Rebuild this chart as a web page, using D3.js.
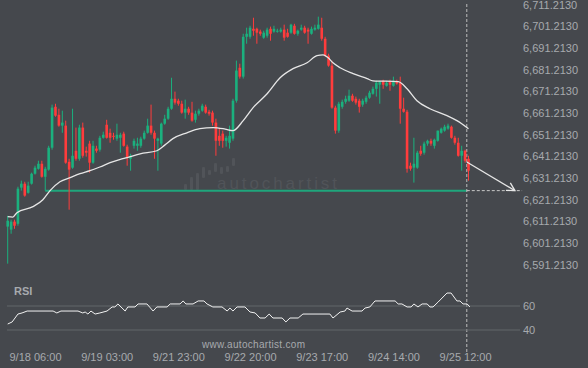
<!DOCTYPE html>
<html><head><meta charset="utf-8">
<script src="https://cdn.jsdelivr.net/npm/d3@7"></script>
<style>html,body{margin:0;padding:0;background:#45484d;}svg{display:block;}</style>
</head><body>
<script>
// ---- data ----
const openP = [6608.8,6607.4,6611.1,6610.1,6626.8,6628.6,6624.4,6628.6,6633.2,6635.5,6637.8,6631.8,6635.1,6645.2,6664.1,6660.4,6655.4,6655.4,6638.7,6636.0,6643.8,6640.1,6654.5,6643.8,6647.1,6638.3,6644.8,6644.3,6649.8,6655.8,6652.1,6650.7,6649.4,6649.8,6651.7,6645.7,6640.1,6646.1,6646.1,6646.1,6649.4,6652.1,6655.4,6652.1,6648.4,6647.1,6656.3,6658.6,6663.2,6667.8,6666.9,6665.5,6661.4,6663.2,6661.4,6658.1,6660.9,6662.3,6664.1,6661.8,6661.4,6656.8,6650.7,6651.7,6648.4,6647.5,6649.4,6666.9,6682.1,6678.0,6696.4,6696.4,6700.1,6700.1,6698.8,6696.0,6696.9,6700.1,6698.8,6698.8,6698.8,6699.7,6698.3,6698.3,6701.5,6697.8,6699.7,6700.6,6699.7,6697.8,6699.7,6700.1,6700.6,6695.5,6687.7,6683.1,6663.7,6653.1,6664.1,6666.4,6666.9,6669.2,6667.8,6666.9,6665.1,6666.4,6668.3,6670.1,6672.4,6674.3,6676.1,6673.8,6675.7,6673.8,6675.7,6675.2,6663.2,6661.8,6636.9,6636.0,6636.0,6643.8,6642.9,6647.1,6648.4,6646.1,6648.4,6652.1,6653.1,6654.0,6654.9,6649.8,6647.5,6641.5,6643.8,6640.1];
const closeP = [6611.5,6611.1,6609.2,6626.3,6628.6,6623.1,6627.7,6633.2,6636.0,6637.8,6631.8,6635.5,6645.2,6663.7,6660.0,6655.4,6656.8,6638.3,6635.1,6641.5,6640.1,6654.5,6641.5,6642.9,6638.3,6646.1,6643.8,6649.8,6651.2,6649.8,6649.8,6650.3,6651.2,6651.2,6646.1,6640.6,6641.5,6648.4,6647.1,6649.4,6652.1,6655.4,6652.1,6649.4,6649.4,6656.3,6658.6,6663.2,6667.8,6666.0,6665.5,6661.4,6663.2,6661.4,6657.7,6660.9,6662.3,6664.6,6661.4,6660.9,6656.8,6648.4,6648.4,6648.4,6649.8,6650.7,6666.9,6680.8,6678.0,6696.4,6697.8,6700.6,6699.2,6698.3,6697.8,6698.3,6699.7,6697.8,6700.1,6699.2,6699.7,6696.0,6696.4,6702.0,6697.8,6699.2,6700.6,6698.3,6698.8,6700.1,6700.6,6702.0,6695.5,6687.7,6683.1,6663.7,6653.1,6665.5,6666.4,6667.8,6669.2,6666.9,6666.0,6664.1,6666.9,6668.3,6670.6,6672.4,6675.2,6675.7,6674.3,6675.2,6674.3,6676.1,6674.8,6663.2,6661.8,6635.5,6635.5,6637.8,6642.9,6642.4,6647.1,6648.4,6647.1,6648.9,6653.1,6654.0,6654.9,6655.4,6649.8,6647.5,6641.5,6643.8,6639.2,6634.6];
const highP = [6613.8,6612.0,6612.0,6627.2,6630.0,6629.5,6629.5,6633.7,6636.9,6639.2,6639.2,6636.4,6646.1,6665.1,6665.5,6663.2,6662.3,6657.7,6640.1,6663.2,6654.5,6655.8,6656.8,6645.7,6648.4,6648.4,6646.1,6650.7,6652.6,6658.1,6654.0,6652.1,6656.3,6652.1,6652.6,6646.6,6642.4,6649.4,6649.8,6650.3,6653.1,6658.6,6665.1,6653.1,6649.8,6656.8,6660.4,6664.1,6677.5,6671.1,6667.8,6666.9,6667.4,6664.1,6666.4,6662.3,6663.2,6665.5,6665.1,6662.7,6662.3,6658.6,6654.5,6653.1,6650.7,6655.4,6667.8,6685.4,6684.0,6697.8,6700.6,6701.5,6705.2,6700.6,6699.7,6699.2,6700.6,6701.1,6701.5,6700.1,6700.6,6702.0,6700.1,6702.4,6702.4,6699.7,6702.0,6701.5,6700.6,6701.1,6702.0,6705.7,6705.2,6696.4,6688.6,6685.4,6664.6,6666.4,6667.4,6669.2,6672.0,6670.1,6668.8,6667.8,6667.8,6669.2,6671.5,6673.4,6676.1,6676.1,6676.6,6676.1,6676.6,6678.0,6676.6,6678.0,6668.3,6662.7,6638.3,6649.8,6643.8,6646.1,6648.0,6648.9,6649.4,6649.4,6653.1,6654.5,6655.8,6656.3,6655.4,6650.7,6649.8,6646.1,6644.3,6641.5];
const lowP = [6591.7,6605.5,6607.8,6609.2,6625.4,6622.6,6624.0,6628.2,6632.8,6635.1,6631.4,6625.4,6634.6,6644.3,6659.5,6654.9,6652.1,6637.8,6616.6,6635.5,6639.2,6639.2,6640.6,6641.1,6633.7,6637.8,6642.9,6643.4,6649.4,6649.4,6647.5,6648.9,6648.4,6642.9,6645.7,6636.9,6634.6,6644.8,6643.8,6645.2,6648.9,6651.7,6651.2,6640.1,6634.6,6646.1,6655.8,6658.1,6662.7,6665.1,6664.6,6660.9,6658.6,6660.4,6657.2,6656.8,6660.0,6661.8,6660.9,6660.0,6655.4,6641.5,6646.1,6645.2,6645.7,6644.8,6648.4,6666.0,6677.1,6677.1,6693.2,6695.5,6696.9,6693.2,6696.9,6695.5,6696.0,6694.6,6698.3,6698.3,6698.3,6694.6,6696.0,6697.8,6697.4,6696.9,6699.2,6697.8,6693.2,6697.4,6699.2,6699.7,6694.6,6687.2,6682.6,6663.2,6651.7,6652.1,6663.2,6665.5,6666.4,6666.4,6665.1,6661.4,6664.1,6665.5,6667.8,6669.7,6668.8,6665.5,6672.4,6673.4,6671.5,6673.4,6674.3,6656.3,6661.4,6633.7,6634.6,6629.1,6635.5,6641.5,6642.0,6646.1,6646.1,6644.8,6648.0,6651.7,6652.6,6653.5,6649.4,6646.6,6641.1,6634.6,6638.3,6630.0];

const maIndex = [0,1.5,2.7,7.4,10.3,12.4,15.3,18.3,21.2,24.1,27,30,33,35,38.8,43.7,46,48.4,52.5,56.3,60.2,63.7,66,69,71.9,76,79.8,83.6,87.7,90.6,92.4,93.8,95.3,97.4,101.2,105.3,107,114.4,117,119.9,123.7,128.7,131.6,135];
const maValue = [6613.4,6613.2,6615.2,6618.0,6621.2,6625.4,6629.5,6631.4,6633.2,6634.6,6636.3,6638.3,6639.8,6640.6,6642.4,6643.8,6646.4,6649.4,6652.1,6654.0,6654.5,6653.8,6653.1,6657.7,6663.7,6670.1,6677.5,6681.7,6684.4,6687.7,6688.1,6686.8,6684.4,6682.1,6679.4,6677.1,6676.1,6675.7,6672.4,6666.9,6663.2,6660.0,6657.7,6654.0];

const rsiIndex = [0,1.3,3,4.2,5.7,13.3,14.4,15.6,20.6,22,22.7,23.5,24.4,25.6,27,29.1,30.6,31.4,32.3,34.4,35.2,37.3,38.2,40.8,42.6,43.7,46.7,47.6,50.5,51.4,52.2,54.3,55.8,57.5,58.4,60.1,62.8,64.3,65.1,66,67.2,69.5,71,72.5,73.9,75.4,76.6,77.7,80.4,81.5,82.7,85.1,86.5,94.4,95.3,97.4,98.8,99.4,100.9,103.8,104.7,106.1,107.6,113.5,114.4,115.5,117,118.2,119,120.2,121.4,122.9,123.7,124.6,126.1,128.7,129.9,131.6,132.5,133.4,134.6,135.4];
const rsiValue = [45.0,46.7,53.3,54.2,55.8,55.8,54.2,55.8,55.8,54.2,55.0,53.3,55.8,53.3,54.2,55.8,59.2,59.2,61.7,55.8,59.2,59.2,61.7,61.7,55.8,59.2,59.2,61.7,61.7,64.2,61.7,61.7,64.2,64.2,61.7,59.2,59.2,55.8,58.3,55.8,59.2,59.2,55.0,54.2,50.0,50.0,53.3,50.0,50.0,46.7,50.0,50.0,53.3,53.3,50.0,55.0,55.8,58.3,55.8,55.8,58.3,59.2,64.2,64.2,61.7,61.7,59.2,59.2,61.7,59.2,61.7,61.7,59.2,59.2,63.3,70.8,70.8,64.2,64.2,61.7,61.7,59.2];

const priceTicks = [6711.213,6701.213,6691.213,6681.213,6671.213,6661.213,6651.213,6641.213,6631.213,6621.213,6611.213,6601.213,6591.213];
const timeTickIndex = [8,29,50,71,92,113,134];
const timeTickLabels = ["9/18 06:00","9/19 03:00","9/21 23:00","9/22 20:00","9/23 17:00","9/24 14:00","9/25 12:00"];
const rsiTicks = [60,40];
const supportLevel = 6625.4;
const supportStartIndex = 11;
const supportEndIndex = 150.7;
const nowIndex = 134.5;
const forecastIndex = [134.5,148.6];
const forecastValue = [6638.6,6625.4];

// ---- drawing ----
const W = 588, H = 368;
const svg = d3.select("body").append("svg").attr("width", W).attr("height", H)
  .style("font-family", "'Liberation Sans', Arial, sans-serif");
svg.append("rect").attr("width", W).attr("height", H).attr("fill", "#45484d");

const x = d3.scaleLinear().domain([0,135]).range([7.7,468.5]);
const y = d3.scaleLinear().domain([6591.213,6711.213]).range([264.7,4.7]);
const yr = d3.scaleLinear().domain([40,60]).range([330,306]);

const UP = "#1bb07e", DOWN = "#ff3c3c", TXT = "#a7aaae";

// watermark
const wm = svg.append("g").attr("fill", "#515459");
const wmBars = [[184,184,190],[190,177,190],[196,173,190],[202,167,178],[208,170,175],[214,163,172],[220,167,174],[226,166,172],[232,158,166]];
wm.selectAll("rect").data(wmBars).join("rect")
  .attr("x", d => d[0]).attr("y", d => d[1]).attr("width", 3).attr("height", d => d[2]-d[1]).attr("rx", 1.2);
wm.append("text").attr("x", 217).attr("y", 189).attr("font-size", 17)
  .attr("textLength", 120).attr("lengthAdjust", "spacing").text("autochartist");

// support line
svg.append("line").attr("x1", x(supportStartIndex)).attr("x2", x(nowIndex))
  .attr("y1", y(supportLevel)).attr("y2", y(supportLevel))
  .attr("stroke", "#1fa67c").attr("stroke-width", 2);
svg.append("line").attr("x1", x(supportStartIndex)).attr("x2", x(supportStartIndex))
  .attr("y1", y(supportLevel)).attr("y2", y(lowP[supportStartIndex]) )
  .attr("stroke", "#1fa67c").attr("stroke-width", 1);
svg.append("line").attr("x1", x(nowIndex)).attr("x2", x(supportEndIndex))
  .attr("y1", y(supportLevel)).attr("y2", y(supportLevel))
  .attr("stroke", "#c8c8c8").attr("stroke-width", 1).attr("stroke-dasharray", "3,2");

// now line
svg.append("line").attr("x1", x(nowIndex)).attr("x2", x(nowIndex)).attr("y1", 4).attr("y2", 352)
  .attr("stroke", "#bdbdbd").attr("stroke-width", 1).attr("stroke-dasharray", "3,2");

// candles
const idx = d3.range(openP.length);
const cg = svg.append("g");
cg.selectAll("line").data(idx).join("line")
  .attr("x1", i => x(i)).attr("x2", i => x(i))
  .attr("y1", i => y(highP[i])).attr("y2", i => y(lowP[i]))
  .attr("stroke", i => closeP[i] >= openP[i] ? UP : DOWN).attr("stroke-width", 1);
cg.selectAll("rect").data(idx).join("rect")
  .attr("x", i => x(i) - 1.3).attr("width", 2.6)
  .attr("y", i => y(Math.max(openP[i], closeP[i])))
  .attr("height", i => Math.max(1, Math.abs(y(openP[i]) - y(closeP[i]))))
  .attr("fill", i => closeP[i] >= openP[i] ? UP : DOWN);

// moving average
const ma = maIndex.map((d,k) => [d, maValue[k]]);
svg.append("path").datum(ma)
  .attr("d", d3.line().x(d => x(d[0])).y(d => y(d[1])).curve(d3.curveMonotoneX))
  .attr("fill", "none").attr("stroke", "#e6e6e6").attr("stroke-width", 1.3);

// forecast arrow
const fx1 = x(forecastIndex[0]), fy1 = y(forecastValue[0]);
const fx2 = x(forecastIndex[1]), fy2 = y(forecastValue[1]);
svg.append("line").attr("x1", fx1).attr("y1", fy1).attr("x2", fx2).attr("y2", fy2)
  .attr("stroke", "#e6e6e6").attr("stroke-width", 1.3);
const ang = Math.atan2(fy2 - fy1, fx2 - fx1);
const hl = 9;
const head = [ang + Math.PI - 0.5, ang + Math.PI + 0.5].map(a => [fx2 + hl*Math.cos(a), fy2 + hl*Math.sin(a)]);
svg.append("path").attr("d", `M${head[0][0]},${head[0][1]}L${fx2},${fy2}L${head[1][0]},${head[1][1]}`)
  .attr("fill", "none").attr("stroke", "#e6e6e6").attr("stroke-width", 1.3);

// price axis
const pa = svg.append("g").attr("transform", "translate(518,0)")
  .call(d3.axisRight(y).tickValues(priceTicks).tickSize(0).tickPadding(5).tickFormat(d3.format(",.4f")));
pa.select(".domain").remove();
pa.selectAll("text").attr("fill", TXT).attr("font-size", 11).style("font-family", "'Liberation Sans', Arial, sans-serif");

// RSI panel
svg.append("g").selectAll("line").data(rsiTicks).join("line")
  .attr("x1", 7).attr("x2", 520).attr("y1", d => yr(d)).attr("y2", d => yr(d))
  .attr("stroke", "#63666b").attr("stroke-width", 1);
const ra = svg.append("g").attr("transform", "translate(518,0)")
  .call(d3.axisRight(yr).tickValues(rsiTicks).tickSize(0).tickPadding(5));
ra.select(".domain").remove();
ra.selectAll("text").attr("fill", TXT).attr("font-size", 11).style("font-family", "'Liberation Sans', Arial, sans-serif");
svg.append("text").attr("x", 14).attr("y", 295).attr("font-size", 11).attr("font-weight", "bold")
  .attr("fill", TXT).text("RSI");
const rsi = rsiIndex.map((d,k) => [d, rsiValue[k]]);
svg.append("path").datum(rsi)
  .attr("d", d3.line().x(d => x(d[0])).y(d => yr(d[1])))
  .attr("fill", "none").attr("stroke", "#f2f2f2").attr("stroke-width", 1);

// time axis
const ta = svg.append("g").attr("transform", "translate(0,350)")
  .call(d3.axisBottom(x).tickValues(timeTickIndex).tickSize(0).tickPadding(3)
    .tickFormat((d,k) => timeTickLabels[k]));
ta.select(".domain").remove();
ta.selectAll("text").attr("fill", TXT).attr("font-size", 11).style("font-family", "'Liberation Sans', Arial, sans-serif");

svg.append("text").attr("x", 202).attr("y", 348).attr("font-size", 10).attr("fill", TXT)
  .attr("textLength", 103).attr("lengthAdjust", "spacing").text("www.autochartist.com");
</script>
</body></html>
